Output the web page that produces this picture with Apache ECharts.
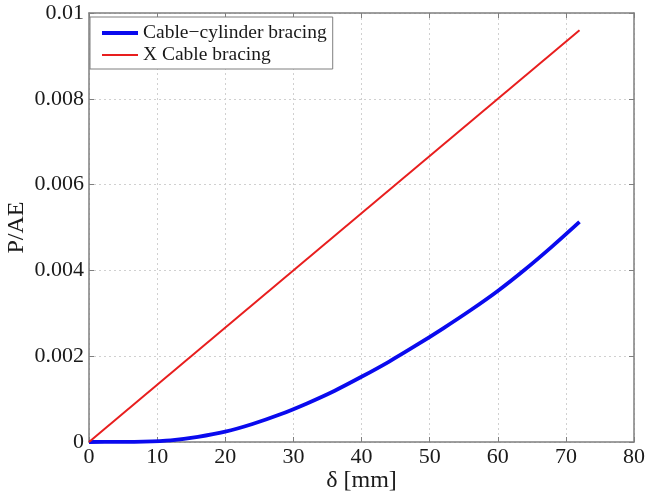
<!DOCTYPE html>
<html><head><meta charset="utf-8">
<script src="https://cdn.jsdelivr.net/npm/echarts@6/dist/echarts.min.js"></script>
<style>html,body{margin:0;padding:0;background:#fff}#c{width:648px;height:498px}</style>
</head><body><div id="c"></div>
<script>
const blueX = [0,4,8,12,16,20,24,28,32,36,40,44,48,52,56,60,64,68,72];
const blueY = [0,0.000002,0.00001,0.00004,0.00012,0.00024,0.00042,0.00064,0.0009,0.00119,0.00152,0.00187,0.00225,0.00265,0.00307,0.00352,0.00402,0.00456,0.00513];
const redX = [0,72];
const redY = [0,0.0096];
const xTicks = [0,10,20,30,40,50,60,70,80];
const yTicks = [0,0.002,0.004,0.006,0.008,0.01];
const seriesNames = ['Cable\u2212cylinder bracing','X Cable bracing'];

const font = 'Liberation Serif';
const axisCol = '#7f7f7f';
const textCol = '#1a1a1a';
const blue = '#0a0aee', red = '#e81e1e';
const chart = echarts.init(document.getElementById('c'));
const zip = (a,b)=>a.map((v,i)=>[v,b[i]]);
const boxAxis = (extra)=>Object.assign({
  axisLine:{show:true,onZero:false,lineStyle:{color:axisCol,width:1.5}},
  axisTick:{show:true,inside:true,length:5,lineStyle:{color:axisCol}},
  axisLabel:{show:false},splitLine:{show:false}
}, extra);
chart.setOption({
  animation:false,
  grid:{left:89,right:14,top:13,bottom:56,containLabel:false,outerBoundsMode:'none'},
  legend:{
    orient:'vertical',left:90,top:17,
    data:[
      {name:seriesNames[0],icon:'path://M0,0H36V4H0Z'},
      {name:seriesNames[1],icon:'path://M0,0H36V2H0Z'}
    ],
    backgroundColor:'#fff',borderColor:axisCol,borderWidth:1,borderRadius:0,
    padding:[6,6,4,12],itemGap:2,itemWidth:36,itemHeight:4,
    textStyle:{fontFamily:font,fontSize:19.5,color:textCol}
  },
  xAxis:[{
    type:'value',min:0,max:80,interval:10,
    name:'\u03b4 [mm]',nameLocation:'middle',nameGap:27,nameMoveOverlap:false,
    nameTextStyle:{fontFamily:font,fontSize:24,color:textCol},
    axisLine:{show:true,onZero:false,lineStyle:{color:axisCol,width:1.5}},
    axisTick:{show:true,inside:true,length:5,lineStyle:{color:axisCol}},
    axisLabel:{fontFamily:font,fontSize:22,color:textCol,margin:4,
      formatter:v=>xTicks.includes(v)?String(v):''},
    splitLine:{show:true,lineStyle:{color:'#d0d0d0',type:[2,3],width:1}}
  }, boxAxis({type:'value',position:'top',min:0,max:80,interval:10})],
  yAxis:[{
    type:'value',min:0,max:0.01,interval:0.002,
    name:'P/AE',nameLocation:'middle',nameGap:60,nameMoveOverlap:false,
    nameTextStyle:{fontFamily:font,fontSize:24,color:textCol},
    axisLine:{show:true,onZero:false,lineStyle:{color:axisCol,width:1.5}},
    axisTick:{show:true,inside:true,length:5,lineStyle:{color:axisCol}},
    axisLabel:{fontFamily:font,fontSize:22,color:textCol,margin:5,
      formatter:v=>{const t=yTicks.find(k=>Math.abs(k-v)<1e-9);return t===undefined?'':String(+t.toFixed(3));}},
    splitLine:{show:true,lineStyle:{color:'#d0d0d0',type:[2,3],width:1}}
  }, boxAxis({type:'value',position:'right',min:0,max:0.01,interval:0.002})],
  series:[
    {name:seriesNames[0],type:'line',symbol:'none',data:zip(blueX,blueY),smooth:0.3,
     lineStyle:{color:blue,width:3.8},itemStyle:{color:blue}},
    {name:seriesNames[1],type:'line',symbol:'none',data:zip(redX,redY),
     lineStyle:{color:red,width:2},itemStyle:{color:red}}
  ]
});
</script></body></html>
